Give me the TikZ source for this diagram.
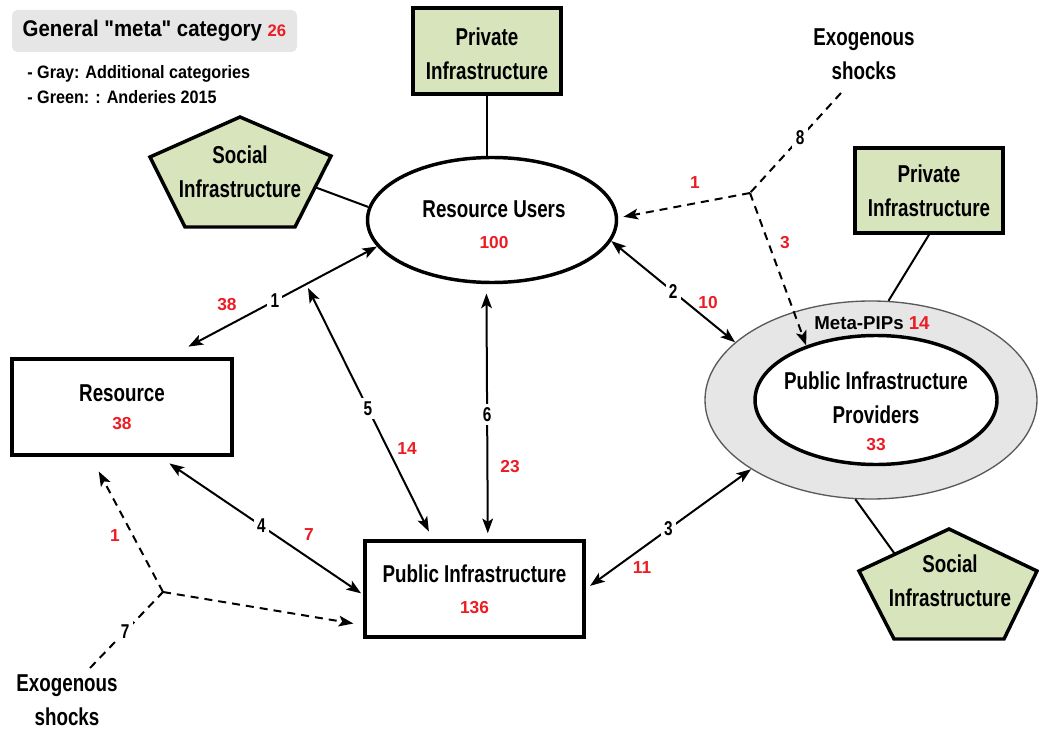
\documentclass[tikz,border=0pt]{standalone}
\usepackage{fontspec}
\setmainfont{Liberation Sans}
\newfontfamily\narrowfont[FakeStretch=0.77]{Liberation Sans}
\newfontfamily\legfont[FakeStretch=0.9]{Liberation Sans}
\usetikzlibrary{arrows.meta,shapes.geometric,calc}
\definecolor{pgreen}{RGB}{216,228,188}
\definecolor{nred}{RGB}{236,28,36}
\definecolor{metagray}{RGB}{230,230,230}
\newcommand{\nodefont}{\narrowfont\bfseries\fontsize{18.3}{25.5}\selectfont}
\newcommand{\numtxt}[1]{{\normalfont\bfseries\fontsize{13}{15}\selectfont\color{nred}#1}}
\newcommand{\edgefont}{\narrowfont\bfseries\fontsize{15}{17}\selectfont}
\begin{document}
\begin{tikzpicture}[x=0.75pt,y=-0.75pt,
  >={Stealth[length=11pt,width=8pt,inset=2.5pt]},
  thickbox/.style={draw, line width=2.6pt, rectangle, inner sep=0pt, align=center, font=\nodefont},
  greenbox/.style={thickbox, fill=pgreen},
  ellnode/.style={draw, ellipse, line width=2.6pt, inner sep=0pt, align=center, font=\nodefont, fill=white},
  tie/.style={line width=1.5pt},
  conn/.style={line width=1.5pt, <->},
  dconn/.style={line width=1.5pt, dash pattern=on 6pt off 4.5pt},
  elab/.style={fill=white, inner sep=2.5pt, font=\edgefont},
  rlab/.style={inner sep=0pt, font=\normalfont\bfseries\fontsize{13}{15}\selectfont, text=nred},
  pent/.style={draw, line width=2.6pt, fill=pgreen, line join=miter},
  txt/.style={align=center, font=\nodefont, inner sep=0pt},
]
\useasboundingbox (0,0) rectangle (1039,731);

% legend
\node[fill=metagray, rounded corners=4pt, minimum width=213.75pt, minimum height=31.5pt, inner sep=0pt,
      font=\legfont\bfseries\fontsize{17}{20}\selectfont] (leg) at (154.5,31)
      {General "meta" category \textcolor{nred}{\normalfont\bfseries\fontsize{12.5}{14}\selectfont 26}};
\node[anchor=west, align=left, inner sep=0pt, font=\legfont\bfseries\fontsize{13.5}{18.75}\selectfont] (legtxt) at (27,84.5)
      {- Gray: Additional categories\\- Green: : Anderies 2015};

% pentagons
\coordinate (s1t) at (240,117);
\coordinate (s1r) at (331,156);
\coordinate (s1br) at (295,227);
\coordinate (s1bl) at (185,227);
\coordinate (s1l) at (150,157);
\draw[pent] (s1t) -- (s1r) -- (s1br) -- (s1bl) -- (s1l) -- cycle;
\node[txt] (soc1) at (240,172) {Social\\Infrastructure};

\coordinate (s2t) at (949,529);
\coordinate (s2r) at (1037,571);
\coordinate (s2br) at (1004,639);
\coordinate (s2bl) at (894,639);
\coordinate (s2l) at (859,571);
\draw[pent] (s2t) -- (s2r) -- (s2br) -- (s2bl) -- (s2l) -- cycle;
\node[txt] (soc2) at (950,581) {Social\\Infrastructure};

% main nodes
\node[greenbox, minimum width=111pt, minimum height=64.5pt] (priv1) at (487,51) {};
\node[txt] (priv1txt) at (487,54) {Private\\Infrastructure};
\node[greenbox, minimum width=111pt, minimum height=63.75pt] (priv2) at (929,190.5) {Private\\Infrastructure};
\node[ellnode, minimum width=186.75pt, minimum height=93.75pt] (ru) at (492,220) {};
\node[txt] (rutxt) at (494,225) {Resource Users\\[-2.5pt]\numtxt{100}};
\node[thickbox, minimum width=165pt, minimum height=72pt] (res) at (122,407) {Resource\\[-4.5pt]\numtxt{38}};
\node[thickbox, minimum width=164.25pt, minimum height=72pt] (pi) at (474.5,589) {Public Infrastructure\\[-2.5pt]\numtxt{136}};

\node[ellipse, draw=black!65, line width=1pt, fill=metagray, minimum width=249pt, minimum height=148.5pt, inner sep=0pt] (pipo) at (871,400) {};
\node[ellnode, minimum width=181.5pt, minimum height=96.75pt] (pip) at (876,400) {};
\node[txt] (piptxt) at (876,411) {Public Infrastructure\\Providers\\[-5.5pt]\numtxt{33}};
\node[inner sep=0pt, font=\normalfont\bfseries\fontsize{14}{16}\selectfont] (metalab) at (872,323) {Meta-PIPs \textcolor{nred}{14}};

% plain ties
\draw[tie] (priv1.south) -- (priv1.south |- ru.north);
\draw[tie] ($(s1r)!0.44!(s1br)$) -- (ru.174);
\draw[tie] (priv2.south) -- (pipo.80);
\draw[tie] (pipo.261) -- ($(s2t)!0.6!(s2l)$);

% connectors
\draw[conn, shorten >=17pt] (ru.193) -- node[elab, pos=0.49] (l1) {1} (res.47);
\draw[conn] (ru.350) -- node[elab, pos=0.5] (l2) {2} (pipo.157);
\draw[conn, shorten <=4pt] (pi.east) -- node[elab, pos=0.5] (l3) {3} (pipo.210);
\draw[conn, shorten <=9pt, shorten >=2pt] (res.307) -- node[elab, pos=0.5] (l4) {4} (pi.183);
\coordinate (c5top) at (308,288);
\draw[conn, shorten >=6.5pt] (c5top) -- node[elab, pos=0.48] (l5) {5} (pi.130);
\draw[conn, shorten <=7pt, shorten >=4.5pt] (ru.265) -- node[elab, pos=0.51] (l6) {6} (pi.75);

% exogenous shocks
\node[txt] (exo1) at (864,54) {Exogenous\\shocks};
\node[txt] (exo2) at (67,700) {Exogenous\\shocks};
\coordinate (x1s) at (841,93);
\coordinate (j1) at (750,193);
\draw[dconn] (x1s) -- node[elab, pos=0.45] (l8) {8} (j1);
\draw[dconn, ->, shorten >=4pt] (j1) -- (ru.1);
\draw[dconn, ->] (j1) -- (pip.142);
\coordinate (x2s) at (90,668);
\coordinate (j2) at (163,592);
\draw[dconn] (x2s) -- node[elab, pos=0.48] (l7) {7} (j2);
\draw[dconn, ->, shorten >=12.5pt] (j2) -- (res.238);
\draw[dconn, ->, shorten >=7.5pt] (j2) -- (pi.198);

% red counts
\node[rlab] (r38) at (227,305) {38};
\node[rlab] (r10) at (708,303) {10};
\node[rlab] (r11) at (642,568) {11};
\node[rlab] (r7) at (309,535) {7};
\node[rlab] (r14) at (407,449) {14};
\node[rlab] (r23) at (510,467) {23};
\node[rlab] (rt1) at (695,183) {1};
\node[rlab] (rt3) at (785,243) {3};
\node[rlab] (rb1) at (115,536) {1};
\end{tikzpicture}
\end{document}
